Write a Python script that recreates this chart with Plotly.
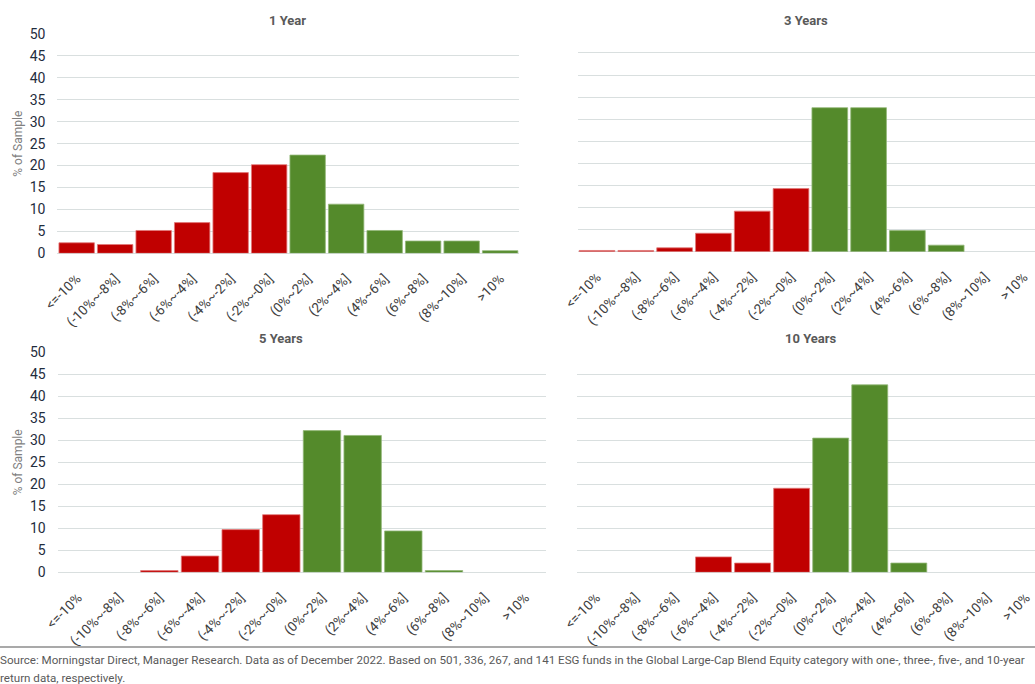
import plotly.graph_objects as go

W, H = 1035, 684

# Return buckets (x categories) shared by all four panels
categories = ["<=-10%", "(-10%~-8%]", "(-8%~-6%]", "(-6%~-4%]", "(-4%~-2%]", "(-2%~-0%]",
              "(0%~2%]", "(2%~4%]", "(4%~6%]", "(6%~8%]", "(8%~10%]", ">10%"]

# % of sample in each bucket, per trailing period
one_year = [2.4, 2.0, 5.2, 7.0, 18.4, 20.2, 22.4, 11.2, 5.2, 2.8, 2.8, 0.6]
three_years = [0.3, 0.3, 0.9, 4.2, 9.2, 14.3, 32.6, 32.6, 4.8, 1.5, 0.0, 0.0]
five_years = [0.0, 0.0, 0.4, 3.7, 9.7, 13.1, 32.2, 31.1, 9.4, 0.4, 0.0, 0.0]
ten_years = [0.0, 0.0, 0.0, 3.5, 2.1, 19.1, 30.5, 42.6, 2.1, 0.0, 0.0, 0.0]

panel_titles = ["1 Year", "3 Years", "5 Years", "10 Years"]
y_ticks = [0, 5, 10, 15, 20, 25, 30, 35, 40, 45, 50]
y_title = "% of Sample"
source_lines = [
    "Source: Morningstar Direct, Manager Research. Data as of December 2022. Based on 501, 336, 267, "
    "and 141 ESG funds in the Global Large-Cap Blend Equity category with one-, three-, five-, and 10-year",
    "return data, respectively.",
]

RED, GREEN = "#C00000", "#548A2B"
RED_EDGE, GREEN_EDGE = "#E27A7A", "#93B878"
GRID = "#D9DFDF"
FONT = "Roboto, Liberation Sans, sans-serif"

# pixel geometry of each panel: left, right, y of 0, y of 50, x span per bucket
panels = [
    dict(x0=57.4, x1=519.3, yz=253.3, yt=34.0, step=38.5, label=True, tx=287, ty=21),
    dict(x0=577.6, x1=1035, yz=251.8, yt=30.8, step=38.8, label=False, tx=806, ty=21),
    dict(x0=57.7, x1=545.6, yz=572.3, yt=352.3, step=40.66, label=True, tx=281, ty=338),
    dict(x0=576.8, x1=1035, yz=572.3, yt=352.3, step=39.06, label=False, tx=811, ty=338),
]
series = [one_year, three_years, five_years, ten_years]

fig = go.Figure()
annotations = []
n_neg = 6

for i, (p, vals) in enumerate(zip(panels, series)):
    k = "" if i == 0 else str(i + 1)
    colors = [RED] * n_neg + [GREEN] * (len(categories) - n_neg)
    edges = [RED_EDGE] * n_neg + [GREEN_EDGE] * (len(categories) - n_neg)
    # empty buckets get no outline so nothing is drawn for them
    widths = [0.8 if v > 0 else 0 for v in vals]
    fig.add_trace(go.Bar(
        x=categories, y=vals, xaxis="x" + k, yaxis="y" + k,
        marker=dict(color=colors, line=dict(color=edges, width=widths)),
        showlegend=False, hoverinfo="x+y",
    ))
    xr_end = -0.5 + (p["x1"] - p["x0"]) / p["step"]
    fig.layout["xaxis" + k] = dict(
        domain=[p["x0"] / W, p["x1"] / W], anchor="y" + k, automargin=False,
        range=[-0.5, xr_end], type="category",
        tickangle=-45, tickfont=dict(family=FONT, size=13.5, color="#404040"),
        ticklabelstandoff=14,
        showgrid=False, showline=False, zeroline=False, ticks="",
    )
    fig.layout["yaxis" + k] = dict(
        domain=[1 - p["yz"] / H, 1 - p["yt"] / H], anchor="x" + k, automargin=False,
        range=[0, 50], tickvals=y_ticks, showticklabels=p["label"],
        tickfont=dict(family=FONT, size=14, color="#1F2D3D"),
        ticklabelstandoff=11,
        showgrid=True, gridcolor=GRID, gridwidth=1.3,
        zeroline=True, zerolinecolor=GRID, zerolinewidth=1.3,
        showline=False, ticks="",
    )
    annotations.append(dict(
        text="<b>" + panel_titles[i] + "</b>", x=p["tx"] / W, y=1 - p["ty"] / H,
        xref="paper", yref="paper", xanchor="center", yanchor="middle", showarrow=False,
        font=dict(family=FONT, size=13, color="#595959"),
    ))
    if p["label"]:
        annotations.append(dict(
            text=y_title, textangle=-90, x=18 / W, y=1 - (p["yz"] + p["yt"]) / 2 / H,
            xref="paper", yref="paper", xanchor="center", yanchor="middle", showarrow=False,
            font=dict(family=FONT, size=12, color="#7F7F7F"),
        ))

# footnote, one annotation per line
for line, yc in zip(source_lines, [660, 678]):
    annotations.append(dict(
        text=line, x=-2 / W, y=1 - yc / H, xref="paper", yref="paper",
        xanchor="left", yanchor="middle", align="left", showarrow=False,
        font=dict(family=FONT, size=11.6, color="#595959"),
    ))

fig.update_layout(
    template="none",
    width=W, height=H, margin=dict(l=0, r=0, t=0, b=0, autoexpand=False),
    paper_bgcolor="white", plot_bgcolor="white",
    bargap=0.08, annotations=annotations,
    shapes=[dict(type="line", xref="paper", yref="paper", x0=0, x1=1,
                 y0=1 - 647 / H, y1=1 - 647 / H, line=dict(color="#8C8C8C", width=1.5))],
)

fig.write_html("out.html", config={"displayModeBar": False})
